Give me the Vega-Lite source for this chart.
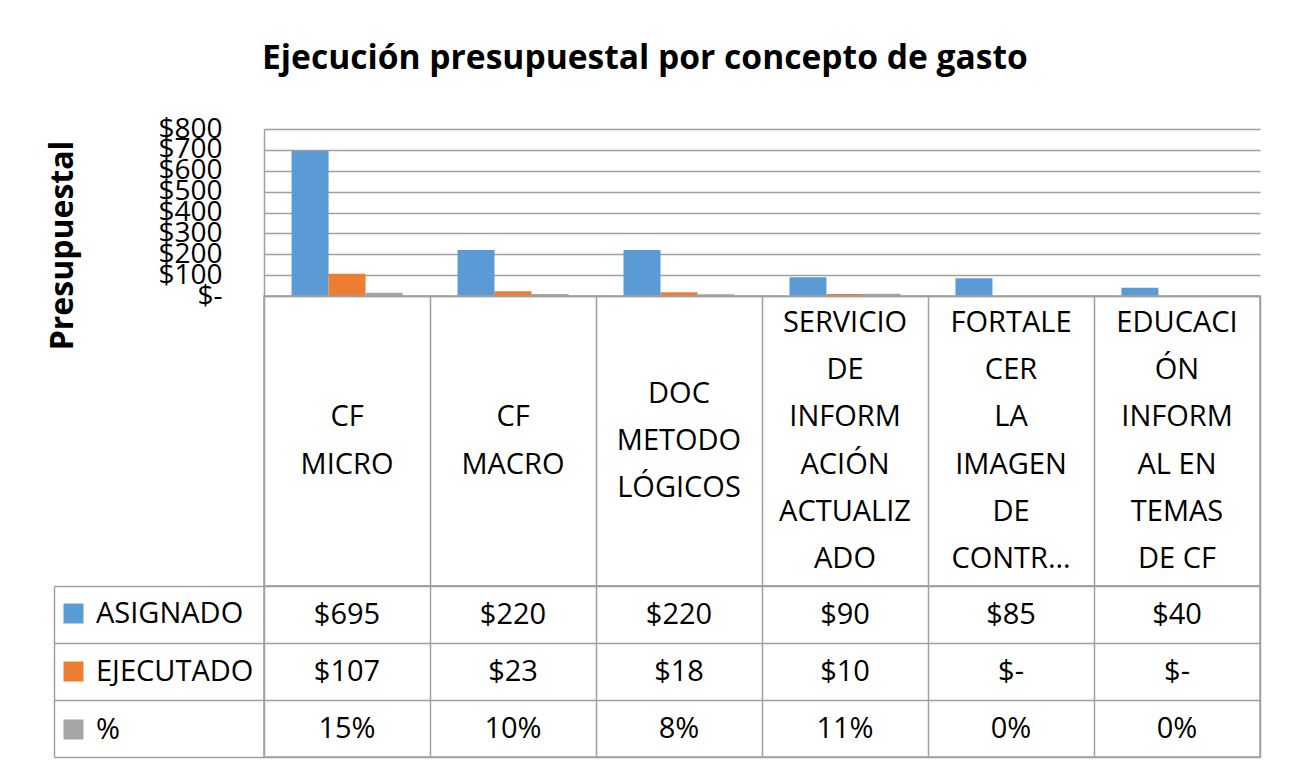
{
  "$schema": "https://vega.github.io/schema/vega-lite/v6.json",
  "background": "white",
  "padding": {"left": 46, "top": 42, "right": 30, "bottom": 10},
  "title": {
    "text": "Ejecución presupuestal por concepto de gasto",
    "anchor": "start",
    "frame": "group",
    "font": "Open Sans",
    "fontSize": 33.6,
    "fontWeight": "bold",
    "color": "#000000",
    "offset": 39,
    "dx": -2
  },
  "config": {
    "font": "Open Sans",
    "view": {"stroke": null},
    "axis": {"labelFont": "Open Sans", "titleFont": "Open Sans", "labelColor": "#000000", "titleColor": "#000000"}
  },
  "datasets": {
    "vals": [
      {"cat": "CF MICRO", "series": "ASIGNADO", "value": 695},
      {"cat": "CF MICRO", "series": "EJECUTADO", "value": 107},
      {"cat": "CF MICRO", "series": "%", "value": 15},
      {"cat": "CF MACRO", "series": "ASIGNADO", "value": 220},
      {"cat": "CF MACRO", "series": "EJECUTADO", "value": 23},
      {"cat": "CF MACRO", "series": "%", "value": 10},
      {"cat": "DOC METODOLÓGICOS", "series": "ASIGNADO", "value": 220},
      {"cat": "DOC METODOLÓGICOS", "series": "EJECUTADO", "value": 18},
      {"cat": "DOC METODOLÓGICOS", "series": "%", "value": 8},
      {"cat": "SERVICIO DE INFORMACIÓN ACTUALIZADO", "series": "ASIGNADO", "value": 90},
      {"cat": "SERVICIO DE INFORMACIÓN ACTUALIZADO", "series": "EJECUTADO", "value": 10},
      {"cat": "SERVICIO DE INFORMACIÓN ACTUALIZADO", "series": "%", "value": 11},
      {"cat": "FORTALECER LA IMAGEN DE CONTR…", "series": "ASIGNADO", "value": 85},
      {"cat": "FORTALECER LA IMAGEN DE CONTR…", "series": "EJECUTADO", "value": 0},
      {"cat": "FORTALECER LA IMAGEN DE CONTR…", "series": "%", "value": 0},
      {"cat": "EDUCACIÓN INFORMAL EN TEMAS DE CF", "series": "ASIGNADO", "value": 40},
      {"cat": "EDUCACIÓN INFORMAL EN TEMAS DE CF", "series": "EJECUTADO", "value": 0},
      {"cat": "EDUCACIÓN INFORMAL EN TEMAS DE CF", "series": "%", "value": 0}
    ],
    "catlines": [
      {"cat": "CF MICRO", "line": 0, "txt": "CF"},
      {"cat": "CF MICRO", "line": 1, "txt": "MICRO"},
      {"cat": "CF MACRO", "line": 0, "txt": "CF"},
      {"cat": "CF MACRO", "line": 1, "txt": "MACRO"},
      {"cat": "DOC METODOLÓGICOS", "line": 0, "txt": "DOC"},
      {"cat": "DOC METODOLÓGICOS", "line": 1, "txt": "METODO"},
      {"cat": "DOC METODOLÓGICOS", "line": 2, "txt": "LÓGICOS"},
      {"cat": "SERVICIO DE INFORMACIÓN ACTUALIZADO", "line": 0, "txt": "SERVICIO"},
      {"cat": "SERVICIO DE INFORMACIÓN ACTUALIZADO", "line": 1, "txt": "DE"},
      {"cat": "SERVICIO DE INFORMACIÓN ACTUALIZADO", "line": 2, "txt": "INFORM"},
      {"cat": "SERVICIO DE INFORMACIÓN ACTUALIZADO", "line": 3, "txt": "ACIÓN"},
      {"cat": "SERVICIO DE INFORMACIÓN ACTUALIZADO", "line": 4, "txt": "ACTUALIZ"},
      {"cat": "SERVICIO DE INFORMACIÓN ACTUALIZADO", "line": 5, "txt": "ADO"},
      {"cat": "FORTALECER LA IMAGEN DE CONTR…", "line": 0, "txt": "FORTALE"},
      {"cat": "FORTALECER LA IMAGEN DE CONTR…", "line": 1, "txt": "CER"},
      {"cat": "FORTALECER LA IMAGEN DE CONTR…", "line": 2, "txt": "LA"},
      {"cat": "FORTALECER LA IMAGEN DE CONTR…", "line": 3, "txt": "IMAGEN"},
      {"cat": "FORTALECER LA IMAGEN DE CONTR…", "line": 4, "txt": "DE"},
      {"cat": "FORTALECER LA IMAGEN DE CONTR…", "line": 5, "txt": "CONTR…"},
      {"cat": "EDUCACIÓN INFORMAL EN TEMAS DE CF", "line": 0, "txt": "EDUCACI"},
      {"cat": "EDUCACIÓN INFORMAL EN TEMAS DE CF", "line": 1, "txt": "ÓN"},
      {"cat": "EDUCACIÓN INFORMAL EN TEMAS DE CF", "line": 2, "txt": "INFORM"},
      {"cat": "EDUCACIÓN INFORMAL EN TEMAS DE CF", "line": 3, "txt": "AL EN"},
      {"cat": "EDUCACIÓN INFORMAL EN TEMAS DE CF", "line": 4, "txt": "TEMAS"},
      {"cat": "EDUCACIÓN INFORMAL EN TEMAS DE CF", "line": 5, "txt": "DE CF"}
    ]
  },
  "spacing": 0,
  "bounds": "flush",
  "resolve": {"scale": {"x": "independent", "y": "independent", "color": "independent"}},
  "vconcat": [
    {
      "width": 996,
      "height": 167,
      "data": {"name": "vals"},
      "mark": {"type": "bar"},
      "encoding": {
        "x": {
          "field": "cat", "type": "nominal", "sort": null,
          "scale": {"paddingInner": 0.331, "paddingOuter": 0.166},
          "axis": {"labels": false, "ticks": false, "title": null, "domain": true, "domainColor": "#a0a0a0", "domainWidth": 1.5}
        },
        "xOffset": {"field": "series", "type": "nominal", "sort": ["ASIGNADO", "EJECUTADO", "%"], "scale": {"paddingInner": 0, "paddingOuter": 0}},
        "y": {
          "field": "value", "type": "quantitative",
          "scale": {"domain": [0, 800], "nice": false},
          "axis": {
            "values": [0, 100, 200, 300, 400, 500, 600, 700, 800],
            "labelExpr": "datum.value == 0 ? '$-\u00a0\u00a0' : '$' + datum.value",
            "labelOverlap": false,
            "labelFontSize": 28,
            "labelPadding": 42,
            "ticks": false,
            "domain": true, "domainColor": "#a0a0a0", "domainWidth": 1.5,
            "grid": true, "gridColor": "#a0a0a0", "gridWidth": 1.5,
            "title": "Presupuestal",
            "titleFontSize": 32,
            "titleFontWeight": "bold",
            "titleX": -202,
            "titleY": 116,
            "titleAngle": -90,
            "titleAlign": "center",
            "titleBaseline": "middle"
          }
        },
        "color": {
          "field": "series", "type": "nominal", "sort": ["ASIGNADO", "EJECUTADO", "%"],
          "scale": {"domain": ["ASIGNADO", "EJECUTADO", "%"], "range": ["#5b9bd5", "#ed7d31", "#a5a5a5"]},
          "legend": {
            "orient": "none",
            "legendX": -205,
            "legendY": 470,
            "title": null,
            "padding": 0,
            "symbolType": "square",
            "symbolSize": 400,
            "symbolStrokeWidth": 0,
            "symbolOpacity": 1,
            "labelFont": "Open Sans",
            "labelFontSize": 29,
            "labelColor": "#000000",
            "labelOffset": 8,
            "labelLimit": 400,
            "rowPadding": 28
          }
        }
      }
    },
    {
      "width": 996,
      "height": 290,
      "data": {"name": "catlines"},
      "view": {"stroke": "#a0a0a0", "strokeWidth": 1.5},
      "transform": [
        {"joinaggregate": [{"op": "max", "field": "line", "as": "maxline"}], "groupby": ["cat"]},
        {"calculate": "datum.line - datum.maxline / 2", "as": "pos"}
      ],
      "mark": {"type": "text", "font": "Open Sans", "fontSize": 29, "baseline": "middle", "align": "center", "color": "#000000"},
      "encoding": {
        "x": {
          "field": "cat", "type": "nominal", "sort": null,
          "scale": {"paddingInner": 0, "paddingOuter": 0},
          "axis": {"labels": false, "ticks": false, "domain": false, "title": null, "grid": true, "tickBand": "extent", "gridColor": "#a0a0a0", "gridWidth": 1.5}
        },
        "y": {
          "field": "pos", "type": "quantitative",
          "scale": {"domain": [-3.085, 3.085], "reverse": true, "nice": false, "zero": false},
          "axis": null
        },
        "text": {"field": "txt"}
      }
    },
    {
      "width": 996,
      "height": 171,
      "data": {"name": "vals"},
      "view": {"stroke": "#a0a0a0", "strokeWidth": 1.5},
      "transform": [
        {"calculate": "datum.series == '%' ? datum.value + '%' : (datum.value == 0 ? '$-' : '$' + datum.value)", "as": "txt"}
      ],
      "layer": [
        {
          "mark": {"type": "text", "font": "Open Sans", "fontSize": 29, "baseline": "middle", "align": "center", "color": "#000000"},
          "encoding": {
            "x": {
              "field": "cat", "type": "nominal", "sort": null,
              "scale": {"paddingInner": 0, "paddingOuter": 0},
              "axis": {"labels": false, "ticks": false, "domain": false, "title": null, "grid": true, "tickBand": "extent", "gridColor": "#a0a0a0", "gridWidth": 1.5}
            },
            "y": {
              "field": "series", "type": "nominal", "sort": ["ASIGNADO", "EJECUTADO", "%"],
              "scale": {"paddingInner": 0, "paddingOuter": 0},
              "axis": {"labels": false, "ticks": true, "tickSize": 210, "tickBand": "extent", "tickColor": "#a0a0a0", "tickWidth": 1.5, "domain": false, "title": null, "grid": true, "gridColor": "#a0a0a0", "gridWidth": 1.5}
            },
            "text": {"field": "txt"}
          }
        },
        {
          "mark": {"type": "text", "opacity": 0},
          "encoding": {
            "x": {"field": "cat", "type": "nominal", "sort": null},
            "y": {
              "field": "series", "type": "nominal", "sort": ["ASIGNADO", "EJECUTADO", "%"],
              "axis": {"orient": "left", "offset": 210, "labels": false, "ticks": false, "grid": false, "domain": true, "domainColor": "#a0a0a0", "domainWidth": 1.5, "title": null}
            },
            "text": {"field": "txt"}
          }
        }
      ],
      "resolve": {"axis": {"y": "independent"}}
    }
  ]
}
